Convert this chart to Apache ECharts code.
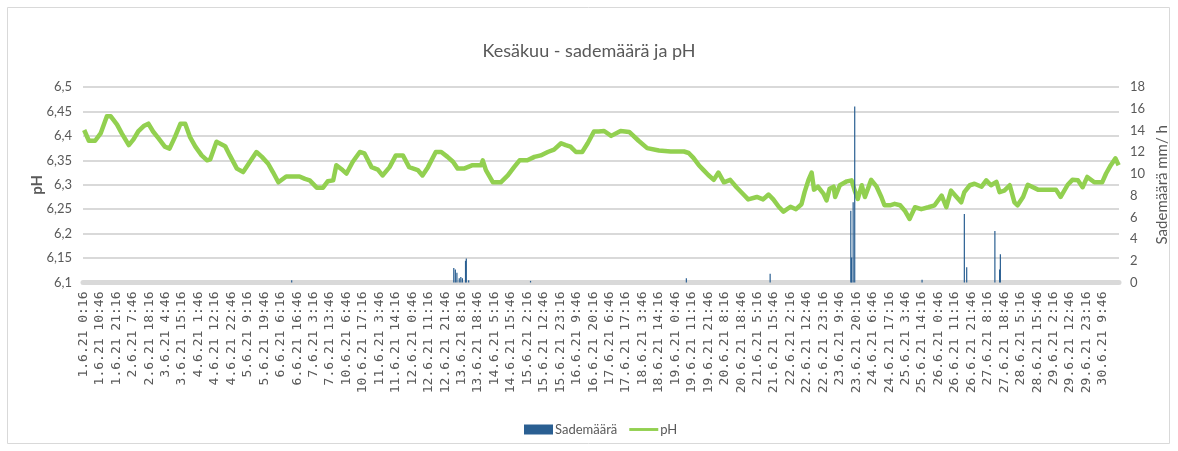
<!DOCTYPE html>
<html>
<head>
<meta charset="utf-8">
<title>Kesäkuu - sademäärä ja pH</title>
<script src="https://cdn.jsdelivr.net/npm/echarts@6/dist/echarts.min.js"></script>
<style>
  html, body { margin: 0; padding: 0; background: #fff; }
  #chart { width: 1178px; height: 451px; }
</style>
</head>
<body>
<div id="chart"></div>
<script>
// x-axis labels as they appear (every 21st half-hour reading)
const tickLabels = [
  '1.6.21 0:16', '1.6.21 10:46', '1.6.21 21:16', '2.6.21 7:46', '2.6.21 18:16',
  '3.6.21 4:46', '3.6.21 15:16', '4.6.21 1:46', '4.6.21 12:16', '4.6.21 22:46',
  '5.6.21 9:16', '5.6.21 19:46', '6.6.21 6:16', '6.6.21 16:46', '7.6.21 3:16',
  '7.6.21 13:46', '10.6.21 6:46', '10.6.21 17:16', '11.6.21 3:46', '11.6.21 14:16',
  '12.6.21 0:46', '12.6.21 11:16', '12.6.21 21:46', '13.6.21 8:16', '13.6.21 18:46',
  '14.6.21 5:16', '14.6.21 15:46', '15.6.21 2:16', '15.6.21 12:46', '15.6.21 23:16',
  '16.6.21 9:46', '16.6.21 20:16', '17.6.21 6:46', '17.6.21 17:16', '18.6.21 3:46',
  '18.6.21 14:16', '19.6.21 0:46', '19.6.21 11:16', '19.6.21 21:46', '20.6.21 8:16',
  '20.6.21 18:46', '21.6.21 5:16', '21.6.21 15:46', '22.6.21 2:16', '22.6.21 12:46',
  '22.6.21 23:16', '23.6.21 9:46', '23.6.21 20:16', '24.6.21 6:46', '24.6.21 17:16',
  '25.6.21 3:46', '25.6.21 14:16', '26.6.21 0:46', '26.6.21 11:16', '26.6.21 21:46',
  '27.6.21 8:16', '27.6.21 18:46', '28.6.21 5:16', '28.6.21 15:46', '29.6.21 2:16',
  '29.6.21 12:46', '29.6.21 23:16', '30.6.21 9:46'
]
const readingsPerLabel = 21

// pH readings: [reading index, pH]
const phPoints = [
  [1, 6.412], [7, 6.39], [15, 6.39], [22, 6.405], [30, 6.44], [35, 6.44], [43, 6.423],
  [49, 6.405], [58, 6.381], [64, 6.393], [70, 6.409], [77, 6.42], [83, 6.425], [89, 6.409],
  [96, 6.395], [104, 6.378], [110, 6.374], [117, 6.398], [124, 6.425], [130, 6.425],
  [136, 6.398], [143, 6.378], [151, 6.36], [158, 6.35], [162, 6.352], [170, 6.388],
  [181, 6.379], [187, 6.36], [196, 6.333], [204, 6.326], [211, 6.343], [221, 6.367],
  [228, 6.357], [236, 6.343], [242, 6.326], [249, 6.305], [259, 6.317], [276, 6.317],
  [283, 6.312], [289, 6.309], [298, 6.294], [306, 6.294], [312, 6.307], [319, 6.309],
  [323, 6.34], [331, 6.33], [336, 6.323], [344, 6.347], [353, 6.367], [359, 6.364],
  [368, 6.336], [376, 6.331], [382, 6.319], [391, 6.336], [399, 6.36], [408, 6.36],
  [416, 6.336], [427, 6.33], [433, 6.319], [440, 6.336], [450, 6.367], [457, 6.367],
  [465, 6.357], [472, 6.347], [478, 6.333], [486, 6.333], [497, 6.34], [508, 6.34],
  [510, 6.35], [514, 6.33], [523, 6.305], [533, 6.305], [542, 6.319], [550, 6.336],
  [557, 6.35], [567, 6.35], [576, 6.357], [584, 6.36], [593, 6.367], [601, 6.372],
  [610, 6.385], [616, 6.381], [622, 6.378], [629, 6.367], [637, 6.367], [644, 6.385],
  [652, 6.409], [658, 6.409], [665, 6.41], [674, 6.40], [686, 6.41], [697, 6.408],
  [709, 6.39], [720, 6.375], [735, 6.37], [750, 6.368], [767, 6.368], [773, 6.365],
  [779, 6.355], [786, 6.34], [792, 6.33], [798, 6.32], [805, 6.31], [811, 6.325],
  [818, 6.305], [826, 6.31], [834, 6.295], [843, 6.28], [849, 6.27], [860, 6.275],
  [868, 6.27], [875, 6.28], [881, 6.27], [888, 6.255], [894, 6.245], [903, 6.255],
  [910, 6.25], [917, 6.26], [921, 6.285], [926, 6.31], [930, 6.325], [933, 6.29],
  [938, 6.296], [945, 6.282], [949, 6.268], [953, 6.292], [958, 6.296], [960, 6.275],
  [966, 6.299], [975, 6.307], [981, 6.309], [985, 6.288], [989, 6.271], [994, 6.299],
  [998, 6.275], [1006, 6.31], [1013, 6.296], [1019, 6.275], [1023, 6.258], [1030, 6.258],
  [1036, 6.261], [1043, 6.258], [1049, 6.247], [1055, 6.23], [1062, 6.254], [1070, 6.25],
  [1079, 6.254], [1087, 6.258], [1096, 6.278], [1102, 6.254], [1108, 6.288], [1115, 6.275],
  [1121, 6.264], [1125, 6.285], [1132, 6.299], [1138, 6.302], [1147, 6.296], [1153, 6.309],
  [1159, 6.299], [1166, 6.306], [1170, 6.285], [1176, 6.288], [1183, 6.299], [1189, 6.264],
  [1193, 6.258], [1200, 6.275], [1206, 6.3], [1219, 6.29], [1231, 6.29], [1242, 6.29],
  [1248, 6.275], [1257, 6.3], [1263, 6.31], [1270, 6.309], [1276, 6.295], [1282, 6.316],
  [1291, 6.305], [1301, 6.305], [1306, 6.323], [1312, 6.34], [1318, 6.354], [1322, 6.34]
]

// rain mm/h: [reading index, amount]
const rainPoints = [
  [266, 0.2], [473, 1.33], [475, 1.2], [477, 0.9], [480, 0.4], [482, 0.5], [484, 0.4],
  [488, 2.0], [489, 2.2], [492, 0.2], [571, 0.15], [770, 0.4], [877, 0.8],
  [980, 6.6], [981, 2.3], [983, 7.4], [985, 16.2], [1071, 0.25],
  [1125, 6.3], [1128, 1.4], [1164, 4.75], [1170, 1.2], [1171, 2.6]
]

// one category per reading, only every 21st one carries a label
const categories = []
tickLabels.forEach(function (lbl) {
  categories.push(lbl)
  for (let k = 1; k < readingsPerLabel; k++) categories.push('')
})

const grey = '#595959'
const font = "Lato, 'Liberation Sans', sans-serif"

const chart = echarts.init(document.getElementById('chart'))
chart.setOption({
  animation: false,
  backgroundColor: '#fff',
  title: {
    text: 'Kesäkuu - sademäärä ja pH',
    left: 'center',
    top: 37,
    textStyle: { color: grey, fontSize: 18, fontWeight: 'normal', fontFamily: font }
  },
  graphic: [{
    type: 'rect',
    shape: { x: 7.5, y: 7.5, width: 1162, height: 436 },
    style: { fill: 'none', stroke: '#d9d9d9', lineWidth: 1 },
    silent: true
  }],
  legend: {
    left: 524,
    top: 423,
    padding: 0,
    itemGap: 12,
    itemWidth: 29,
    itemHeight: 10,
    textStyle: { color: grey, fontSize: 13, fontFamily: font, padding: [0, 0, 0, -3] },
    data: [
      { name: 'Sademäärä', icon: 'rect' },
      { name: 'pH', icon: 'path://M0,0 M30,10 M0,3.5 L30,3.5 L30,6.5 L0,6.5 Z' }
    ]
  },
  grid: { left: 83, right: 56, top: 87, bottom: 168.5 },
  xAxis: {
    type: 'category',
    data: categories,
    boundaryGap: true,
    axisLine: { show: true, onZero: false, lineStyle: { color: '#d9d9d9', width: 5 } },
    axisTick: { show: false },
    axisLabel: {
      rotate: 90,
      margin: 9,
      color: grey,
      fontSize: 13,
      padding: [0, 0, 7, 0],
      fontFamily: "'DejaVu Sans Mono', monospace",
      hideOverlap: false,
      interval: function (idx, val) { return val !== '' }
    }
  },
  yAxis: [{
    type: 'value',
    min: 6.1,
    max: 6.5,
    interval: 0.05,
    name: 'pH',
    nameLocation: 'middle',
    nameRotate: 90,
    nameGap: 38,
    nameMoveOverlap: false,
    nameTextStyle: { color: grey, fontSize: 15, fontWeight: 'bold', fontFamily: font },
    axisLine: { show: false },
    axisTick: { show: false },
    axisLabel: {
      color: grey,
      fontSize: 13,
      margin: 11,
      fontFamily: font,
      formatter: function (v) { return String(+v.toFixed(2)).replace('.', ',') }
    },
    splitLine: { lineStyle: { color: '#d9d9d9', width: 2 } }
  }, {
    type: 'value',
    min: 0,
    max: 18,
    interval: 2,
    name: 'Sademäärä mm/ h',
    nameLocation: 'middle',
    nameRotate: 90,
    nameGap: 36,
    nameMoveOverlap: false,
    nameTextStyle: { color: grey, fontSize: 15, fontFamily: font },
    axisLine: { show: false },
    axisTick: { show: false },
    axisLabel: { color: grey, fontSize: 13, margin: 11, fontFamily: font },
    splitLine: { show: false }
  }],
  series: [{
    name: 'pH',
    type: 'line',
    yAxisIndex: 0,
    data: phPoints,
    symbol: 'none',
    color: '#92d050',
    lineStyle: { color: '#92d050', width: 4.5, join: 'round' },
    z: 2
  }, {
    name: 'Sademäärä',
    type: 'bar',
    yAxisIndex: 1,
    data: rainPoints,
    barWidth: 1.2,
    color: '#2a5f92',
    itemStyle: { color: '#2a5f92' },
    z: 3
  }]
})
</script>
</body>
</html>
